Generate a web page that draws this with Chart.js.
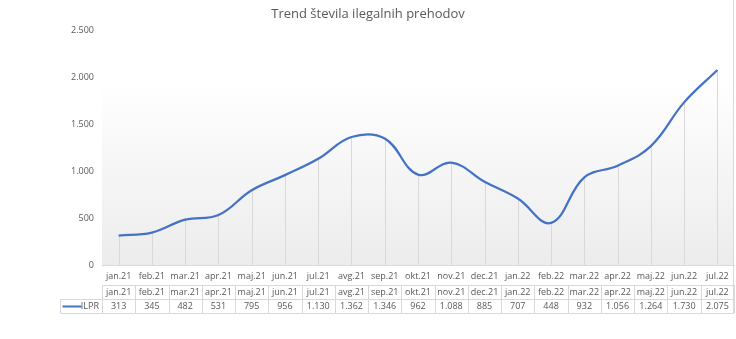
<!DOCTYPE html>
<html lang="sl">
<head>
<meta charset="UTF-8">
<title>Trend števila ilegalnih prehodov</title>
<script src="https://cdn.jsdelivr.net/npm/chart.js"></script>
<style>
    html, body { margin: 0; padding: 0; background: #fff; }
    #wrap { width: 736px; height: 339px; }
</style>
</head>
<body>
<div id="wrap"><canvas id="trendChart"></canvas></div>
<script>
    const chartTitle = "Trend števila ilegalnih prehodov";
    const seriesName = "ILPR";
    const months = ["jan.21", "feb.21", "mar.21", "apr.21", "maj.21", "jun.21", "jul.21", "avg.21", "sep.21",
        "okt.21", "nov.21", "dec.21", "jan.22", "feb.22", "mar.22", "apr.22", "maj.22", "jun.22", "jul.22"];
    const ilpr = [313, 345, 482, 531, 795, 956, 1130, 1362, 1346, 962, 1088, 885, 707, 448, 932, 1056, 1264, 1730, 2075];
    const yTicks = [0, 500, 1000, 1500, 2000, 2500];

    const textColor = "#595959";
    const lineColor = "#4472C4";
    const gridColor = "#d9d9d9";
    const fontFamily = "'Open Sans', 'Liberation Sans', sans-serif";

    // slovenian style: 1.130
    function fmt(v) {
        return String(v).replace(/\B(?=(\d{3})+(?!\d))/g, ".");
    }

    const decorPlugin = {
        id: "decor",
        beforeDraw(chart) {
            const { ctx, chartArea, scales } = chart;
            let top = scales.y.getPixelForValue(1980);
            let grad = ctx.createLinearGradient(0, top, 0, chartArea.bottom);
            grad.addColorStop(0, "#ffffff");
            grad.addColorStop(1, "#ececec");
            ctx.save();
            ctx.fillStyle = grad;
            ctx.fillRect(chartArea.left, top, chartArea.right - chartArea.left, chartArea.bottom - top);
            ctx.restore();
        },
        beforeDatasetsDraw(chart) {
            // drop lines from each point to the axis
            const { ctx, chartArea } = chart;
            const meta = chart.getDatasetMeta(0);
            ctx.save();
            ctx.strokeStyle = gridColor;
            ctx.lineWidth = 1;
            meta.data.forEach(pt => {
                let x = Math.round(pt.x) + 0.5;
                ctx.beginPath();
                ctx.moveTo(x, pt.y);
                ctx.lineTo(x, chartArea.bottom);
                ctx.stroke();
            });
            ctx.restore();
        },
        afterDraw(chart) {
            const { ctx, chartArea, scales } = chart;
            const xs = scales.x;
            const step = xs.getPixelForValue(1) - xs.getPixelForValue(0);
            const rowTop = chartArea.bottom + 20;
            const rowMid = rowTop + 14;
            const rowBot = rowMid + 14;
            const keyLeft = 60.5;

            ctx.save();
            // title
            ctx.fillStyle = textColor;
            ctx.font = "13px " + fontFamily;
            ctx.textAlign = "center";
            ctx.textBaseline = "middle";
            ctx.fillText(chartTitle, chart.width / 2, 14);

            // data table grid
            ctx.strokeStyle = gridColor;
            ctx.lineWidth = 1;
            ctx.beginPath();
            ctx.moveTo(chartArea.left, rowTop + 0.5);
            ctx.lineTo(chartArea.right, rowTop + 0.5);
            ctx.moveTo(keyLeft, rowMid + 0.5);
            ctx.lineTo(chartArea.right, rowMid + 0.5);
            ctx.moveTo(keyLeft, rowBot + 0.5);
            ctx.lineTo(chartArea.right, rowBot + 0.5);
            ctx.moveTo(keyLeft, rowMid);
            ctx.lineTo(keyLeft, rowBot);
            for (let i = 0; i <= months.length; i++) {
                let x = Math.round(xs.getPixelForValue(0) - step / 2 + i * step) + 0.5;
                ctx.moveTo(x, rowTop);
                ctx.lineTo(x, rowBot);
            }
            // right border of the chart
            ctx.moveTo(chartArea.right - 0.5, 0);
            ctx.lineTo(chartArea.right - 0.5, rowBot);
            ctx.stroke();

            // table text
            ctx.font = "9px " + fontFamily;
            ctx.fillStyle = textColor;
            months.forEach((m, i) => {
                let x = xs.getPixelForValue(i);
                ctx.fillText(m, x, rowTop + 7.5);
                ctx.fillText(fmt(ilpr[i]), x, rowMid + 7.5);
            });

            // legend key
            ctx.strokeStyle = lineColor;
            ctx.lineWidth = 2;
            ctx.beginPath();
            ctx.moveTo(keyLeft + 2, rowMid + 7.5);
            ctx.lineTo(keyLeft + 21, rowMid + 7.5);
            ctx.stroke();
            ctx.textAlign = "right";
            ctx.fillText(seriesName, chartArea.left - 3, rowMid + 7.5);
            ctx.restore();
        }
    };

    new Chart(document.getElementById("trendChart"), {
        type: "line",
        data: {
            labels: months,
            datasets: [{
                label: seriesName,
                data: ilpr,
                borderColor: lineColor,
                backgroundColor: lineColor,
                borderWidth: 2.25,
                pointRadius: 0,
                tension: 0.4,
                fill: false
            }]
        },
        options: {
            responsive: true,
            maintainAspectRatio: false,
            animation: false,
            layout: { padding: { top: 30, right: 2, left: 0, bottom: 0 } },
            plugins: {
                legend: { display: false },
                title: { display: false },
                tooltip: { enabled: false }
            },
            scales: {
                x: {
                    offset: true,
                    grid: { display: false, drawTicks: false },
                    border: { display: true, color: gridColor, width: 1 },
                    ticks: {
                        color: textColor,
                        font: { family: fontFamily, size: 9 },
                        padding: 6,
                        maxRotation: 0,
                        autoSkip: false
                    },
                    afterFit(scale) { scale.height = 74; }
                },
                y: {
                    min: 0,
                    max: 2500,
                    grid: { display: false, drawTicks: false },
                    border: { display: false },
                    afterBuildTicks(scale) { scale.ticks = yTicks.map(v => ({ value: v })); },
                    ticks: {
                        color: textColor,
                        font: { family: fontFamily, size: 9 },
                        padding: 8,
                        callback: v => fmt(v)
                    },
                    afterFit(scale) { scale.width = 102; }
                }
            }
        },
        plugins: [decorPlugin]
    });
</script>
</body>
</html>
